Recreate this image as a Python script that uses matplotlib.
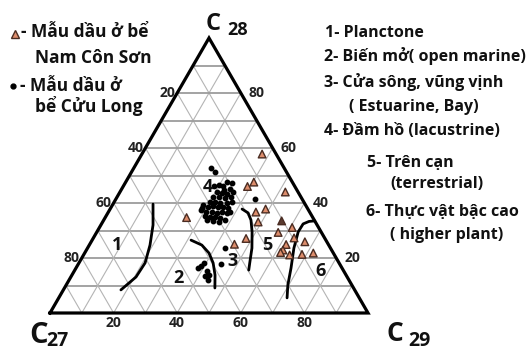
import numpy as np
import matplotlib
matplotlib.use("Agg")
import matplotlib.pyplot as plt
from matplotlib.lines import Line2D

plt.rcParams['font.family'] = ['Open Sans', 'DejaVu Sans']

# ---- data (percent of C27 / C28 / C29 steranes) ----
# Nam Con Son basin oils (triangles)
ncs_c28 = [57.8, 47.6, 46.0, 44.0, 34.7, 36.7, 37.8, 33.1, 33.5, 31.1, 29.3,
           27.3, 27.1, 25.0, 25.9, 24.9, 22.9, 22.0, 21.1, 21.3, 21.8]
ncs_c29 = [37.8, 40.3, 39.1, 52.0, 25.6, 46.4, 48.9, 48.9, 56.1, 60.6, 57.1,
           63.1, 48.1, 45.5, 67.2, 61.8, 61.8, 61.5, 64.8, 68.6, 71.9]
ncs_dark = [8]  # sample drawn with a dark fill

# Cuu Long basin oils (dots)
cl_c28 = [52.9, 51.1, 41.3, 23.8, 17.8,
          16.4, 17.1, 18.2, 15.3, 13.5, 13.8, 12.0,
          46.5, 46.3, 47.7, 47.2, 44.7, 45.0, 44.1, 44.1, 43.5, 43.2, 42.3,
          42.3, 42.1, 41.7, 40.5, 40.5, 40.1, 39.9, 40.5, 39.3, 38.7, 38.9,
          38.4, 38.7, 38.1, 37.5, 36.8, 36.8, 36.5, 36.8, 36.3, 35.3, 35.0,
          35.0, 34.4, 33.8, 33.6, 33.8, 33.2, 38.1, 36.8, 46.2]
cl_c29 = [24.2, 26.4, 43.7, 43.1, 45.0,
          38.4, 38.9, 39.3, 41.6, 42.0, 43.1, 43.7,
          30.0, 31.2, 31.7, 33.6, 32.4, 34.1, 35.6, 30.6, 32.2, 34.0, 35.7,
          30.2, 32.2, 34.2, 30.1, 31.6, 33.4, 35.6, 36.9, 28.6, 30.4, 31.9,
          33.7, 35.2, 37.0, 28.6, 30.6, 32.4, 34.2, 35.6, 37.5, 31.1, 32.8,
          34.4, 36.2, 32.4, 34.6, 38.1, 36.6, 28.7, 38.2, 28.6]

# environment boundaries (C28, C29 percent along each curve)
b1_c28 = [39.6, 32.0, 24.7, 18.2, 13.1, 8.4]
b1_c29 = [12.6, 16.4, 19.1, 20.8, 20.5, 18.1]
b2_c28 = [26.5, 24.7, 21.8, 18.2, 13.8, 9.1]
b2_c29 = [31.1, 35.4, 39.1, 42.2, 45.0, 47.3]
b3_c28 = [37.8, 36.4, 33.8, 29.5, 23.6, 18.5, 15.6]
b3_c29 = [41.5, 44.1, 46.3, 48.8, 51.7, 53.6, 54.7]
b4_c28 = [33.5, 33.3, 32.4, 29.5, 23.6, 16.4, 10.2, 5.5]
b4_c29 = [66.5, 64.8, 63.4, 63.3, 64.9, 67.6, 69.7, 71.8]

tick_values = [20, 40, 60, 80]
zone_names = ['1', '2', '3', '4', '5', '6']
zone_c28 = [24.7, 12.6, 18.9, 45.8, 24.7, 15.3]
zone_c29 = [8.7, 34.1, 47.9, 26.8, 55.9, 77.4]

legend_lines = ['- Mẫu dầu ở bể', 'Nam Côn Sơn', '- Mẫu dầu ở', 'bể Cửu Long']
env_lines = ['1- Planctone', '2- Biến mở( open marine)', '3- Cửa sông, vũng vịnh',
             '( Estuarine, Bay)', '4- Đầm hồ (lacustrine)', '5- Trên cạn',
             '(terrestrial)', '6- Thực vật bậc cao', '( higher plant)']

# ---- figure / geometry ----
W, H = 529, 351
fig = plt.figure(figsize=(W / 100, H / 100), dpi=100)
ax = fig.add_axes([0, 0, 1, 1])
ax.set_axis_off()

X0, Y0 = 50, 313      # C27 corner in pixels
BASE, HEIGHT = 318, 275
SKEW = 0.5
ax.set_xlim(-X0 / BASE, (W - X0) / BASE)
ax.set_ylim(-(H - Y0) / HEIGHT, Y0 / HEIGHT)


def tern(c28, c29):
    c28 = np.asarray(c28, float) / 100.0
    c29 = np.asarray(c29, float) / 100.0
    return c29 + SKEW * c28, c28


def ftext(px, py, s, **kw):
    return fig.text(px / W, 1 - py / H, s, **kw)


# grid every 10 %
for k in range(1, 10):
    f = 10 * k
    x, y = tern([f, f], [0, 100 - f])           # constant C28
    ax.plot(x, y, color='#9c9c9c', lw=1.3, zorder=1)
    x, y = tern([0, 100 - f], [100 - f, 0])     # constant C27
    ax.plot(x, y, color='#b4b4b4', lw=0.8, zorder=1)
    x, y = tern([0, 100 - f], [f, f])           # constant C29
    ax.plot(x, y, color='#b4b4b4', lw=0.8, zorder=1)

# outline
x, y = tern([0, 100, 0, 0], [0, 0, 100, 0])
ax.plot(x, y, color='black', lw=2.3, solid_joinstyle='miter', zorder=3)

# tick labels
tick_kw = dict(textcoords='offset pixels', ha='center', va='center',
               fontsize=10, fontweight='bold', color='#222222')
for v in tick_values:
    ax.annotate(str(v), tern(100 - v, 0), xytext=(-10, 0), **tick_kw)   # C27
    ax.annotate(str(v), tern(v, 100 - v), xytext=(16, 0), **tick_kw)   # C28
    ax.annotate(str(v), tern(0, v), xytext=(0, -10), **tick_kw)        # C29

# boundaries
for bc28, bc29 in [(b1_c28, b1_c29), (b2_c28, b2_c29),
                   (b3_c28, b3_c29), (b4_c28, b4_c29)]:
    x, y = tern(bc28, bc29)
    ax.plot(x, y, color='black', lw=2.0, solid_capstyle='round',
            solid_joinstyle='round', zorder=4)

# samples
x, y = tern(cl_c28, cl_c29)
ax.plot(x, y, 'o', ms=3.2, color='black', mec='black', zorder=5)
x, y = tern(ncs_c28, ncs_c29)
fc = ['#5a3a2e' if i in ncs_dark else '#dd8d6c' for i in range(len(ncs_c28))]
ax.scatter(x, y, marker='^', s=30, c=fc, edgecolors='#4a2c22', linewidths=1.0,
           zorder=6)

# zone numbers
for name, zc28, zc29 in zip(zone_names, zone_c28, zone_c29):
    ax.text(*tern(zc28, zc29), name, ha='center', va='center', fontsize=13,
            fontweight='bold', color='#111111', zorder=7)

# corner titles
title_kw = dict(fontweight='bold', color='#111111', va='baseline')
ftext(206, 30, 'C', fontsize=17, **title_kw)
ftext(227, 35, '28', fontsize=13, **title_kw)
ftext(29, 343, 'C', fontsize=21, **title_kw)
ftext(46, 346, '27', fontsize=14, **title_kw)
ftext(387, 341, 'C', fontsize=19, **title_kw)
ftext(408, 346, '29', fontsize=14, **title_kw)

# legend
leg_kw = dict(fontsize=12.5, fontweight='bold', color='#111111', va='baseline')
for s, (px, py) in zip(legend_lines, [(21, 37.3), (35, 62.7), (20, 90.7), (35, 111.7)]):
    ftext(px, py, s, **leg_kw)
fig.add_artist(Line2D([15.0 / W], [1 - 33.5 / H], marker='^', ms=6,
                      mfc='#dd8d6c', mec='#4a2c22', mew=1.0,
                      transform=fig.transFigure))
fig.add_artist(Line2D([12.5 / W], [1 - 86 / H], marker='o', ms=3.5,
                      color='black', transform=fig.transFigure))

# environment key
env_pos = [(325, 36.7), (324, 61), (324, 87.3), (349, 110.7), (324, 135),
           (367, 167.3), (390, 188.3), (366, 215.7), (390, 239.3)]
for s, (px, py) in zip(env_lines, env_pos):
    ftext(px, py, s, fontsize=11.5, fontweight='bold', color='#111111',
          va='baseline')

fig.savefig('out.png', dpi=100)
